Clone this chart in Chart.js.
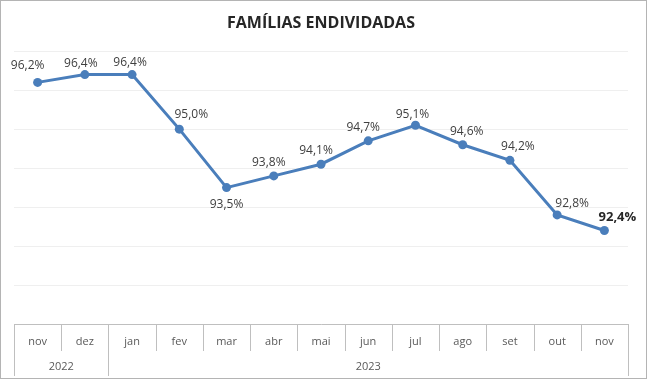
<!DOCTYPE html>
<html><head><meta charset="utf-8">
<script src="https://cdn.jsdelivr.net/npm/chart.js@4/dist/chart.umd.min.js"></script>
<style>html,body{margin:0;padding:0;background:#fff}</style>
</head><body>
<canvas id="c" width="647" height="379" style="display:block;width:647px;height:379px"></canvas>
<script>
const chartTitle = 'FAMÍLIAS ENDIVIDADAS';
const months = ['nov','dez','jan','fev','mar','abr','mai','jun','jul','ago','set','out','nov'];
const years = ['2022','2023'];
const yearSpans = [2, 11];
const endividadas = [96.2, 96.4, 96.4, 95.0, 93.5, 93.8, 94.1, 94.7, 95.1, 94.6, 94.2, 92.8, 92.4];

// label placement (layout only): offset of each value label from its point
const labelOffsets = [[-10,-17],[-4,-11],[-2,-12],[12,-15],[0,17],[-5,-13],[-5,-14],[-5,-13],[-3,-11],[4,-13],[8,-14],[15,-11],[13,-13]];
const highlightIndex = 12;

const fmt = v => v.toFixed(1).replace('.', ',') + '%';

const framePlugin = {
  id: 'frame',
  beforeDraw(chart) {
    const ctx = chart.ctx;
    ctx.save();
    ctx.fillStyle = '#ffffff';
    ctx.fillRect(0, 0, chart.width, chart.height);
    ctx.restore();
  },
  afterDraw(chart) {
    const ctx = chart.ctx;
    ctx.save();
    ctx.strokeStyle = '#b4b4b4';
    ctx.lineWidth = 1;
    ctx.strokeRect(0.5, 0.5, chart.width - 1, chart.height - 1);
    ctx.restore();
  }
};

const tablePlugin = {
  id: 'table',
  afterDraw(chart) {
    const ctx = chart.ctx, x = chart.scales.x;
    const top = Math.round(chart.chartArea.bottom);
    const rowH = 27, totalH = 52;
    const n = months.length;
    const half = (x.getPixelForValue(1) - x.getPixelForValue(0)) / 2;
    const edge = i => Math.round(x.getPixelForValue(i) - half) + 0.5;
    const yearEdges = new Set([0]);
    let acc = 0;
    yearSpans.forEach(s => { acc += s; yearEdges.add(acc); });
    ctx.save();
    ctx.strokeStyle = '#bfbfbf';
    ctx.lineWidth = 1;
    ctx.beginPath();
    ctx.moveTo(edge(0), top + 0.5);
    ctx.lineTo(edge(n), top + 0.5);
    for (let i = 0; i <= n; i++) {
      const bx = edge(i);
      ctx.moveTo(bx, top);
      ctx.lineTo(bx, top + (yearEdges.has(i) ? totalH : rowH));
    }
    ctx.stroke();
    ctx.fillStyle = '#595959';
    ctx.font = '11px "Open Sans"';
    ctx.textAlign = 'center';
    ctx.textBaseline = 'middle';
    months.forEach((m, i) => ctx.fillText(m, x.getPixelForValue(i), top + 18));
    let start = 0;
    years.forEach((yv, k) => {
      const a = x.getPixelForValue(start) - half;
      const b = x.getPixelForValue(start + yearSpans[k] - 1) + half;
      ctx.fillText(yv, (a + b) / 2, top + 43);
      start += yearSpans[k];
    });
    ctx.restore();
  }
};

const labelPlugin = {
  id: 'pointLabels',
  afterDatasetsDraw(chart) {
    const ctx = chart.ctx;
    const meta = chart.getDatasetMeta(0);
    ctx.save();
    ctx.textAlign = 'center';
    ctx.textBaseline = 'middle';
    meta.data.forEach((pt, i) => {
      const v = chart.data.datasets[0].data[i];
      const off = labelOffsets[i];
      if (i === highlightIndex) {
        ctx.font = 'bold 13px "Open Sans"';
        ctx.fillStyle = '#262626';
      } else {
        ctx.font = '12px "Open Sans"';
        ctx.fillStyle = '#404040';
      }
      ctx.fillText(fmt(v), pt.x + off[0], pt.y + off[1]);
    });
    ctx.restore();
  }
};

new Chart(document.getElementById('c'), {
  type: 'line',
  data: {
    labels: months,
    datasets: [{
      data: endividadas,
      borderColor: '#4a7ebb',
      backgroundColor: '#4a7ebb',
      borderWidth: 3,
      pointRadius: 4.5,
      pointHoverRadius: 4.5,
      pointBackgroundColor: '#4a7ebb',
      pointBorderWidth: 0,
      tension: 0
    }]
  },
  options: {
    responsive: false,
    animation: false,
    devicePixelRatio: 1,
    layout: { padding: { left: 14, right: 19, top: 0, bottom: 3 } },
    plugins: {
      legend: { display: false },
      tooltip: { enabled: false },
      title: {
        display: true,
        text: chartTitle,
        color: '#262626',
        font: { family: 'Open Sans', size: 16, weight: 'bold', lineHeight: 1.2 },
        padding: { top: 14, bottom: 18 }
      }
    },
    scales: {
      x: {
        type: 'category',
        offset: true,
        ticks: { display: false },
        grid: { display: false },
        border: { display: false },
        afterFit: s => { s.height = 52; }
      },
      y: {
        min: 90,
        max: 97,
        ticks: { display: false, stepSize: 1 },
        grid: { color: '#efefef', drawTicks: false },
        border: { display: false },
        afterFit: s => { s.width = 0; }
      }
    }
  },
  plugins: [framePlugin, tablePlugin, labelPlugin]
});
</script>
</body></html>
